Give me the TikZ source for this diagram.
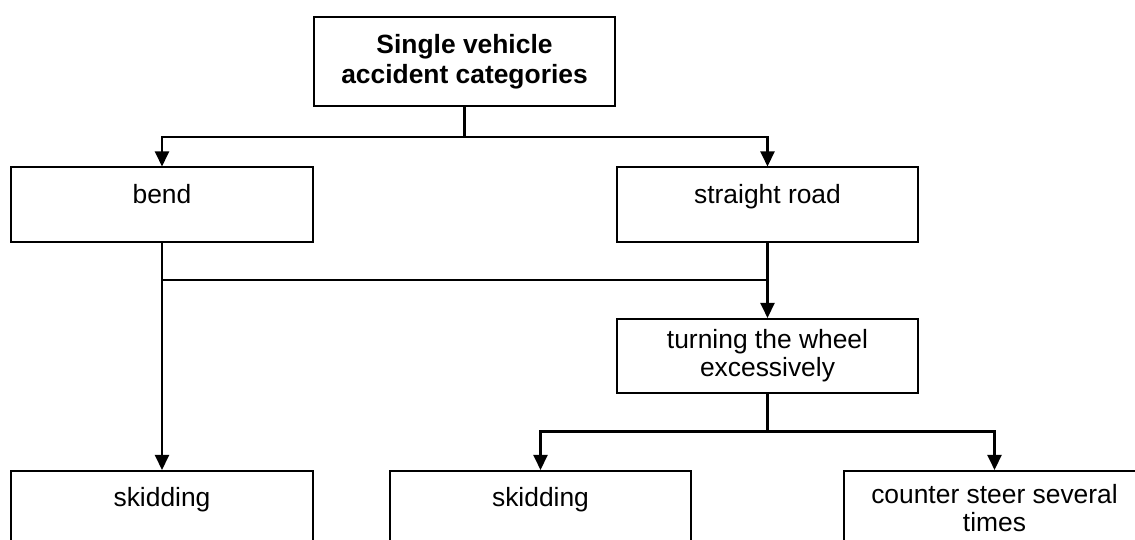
\documentclass[tikz,border=0pt]{standalone}
\usepackage{fontspec}
\setmainfont{Liberation Sans}
\usetikzlibrary{arrows.meta}
\tikzset{
  box/.style={draw=black, line width=1.6pt, minimum width=301.5pt, minimum height=74.5pt,
    inner sep=0pt, align=center, font=\fontsize{26.4}{28}\selectfont},
  onebox/.style={box, text height=19pt, text depth=22pt},
  conn/.style={draw=black, line width=2.4pt},
  arr/.style={conn, -{Triangle[length=15pt,width=14pt]}}
}
\begin{document}
\begin{tikzpicture}[x=1pt,y=-1pt]
\useasboundingbox (0,0) rectangle (1135,539);
\clip (0,0) rectangle (1135,539);
\fill[white] (0,0) rectangle (1135,539);
\node[box, minimum height=89.5pt, font=\bfseries\fontsize{26.4}{30}\selectfont] (top) at (464.5,61.5) {Single vehicle\\accident categories};
\node[onebox] (bend) at (162,204.5) {bend};
\node[onebox] (straight) at (767.5,204.5) {straight road};
\node[box] (turn) at (767.5,356) {turning the wheel\\excessively};
\node[onebox] (skidA) at (162,508) {skidding};
\node[onebox] (skidB) at (540.5,508) {skidding};
\node[box] (counter) at (994.5,508) {counter steer several\\times};
\coordinate (j0) at (464.5,137);
\coordinate (j1) at (162,280);
\coordinate (j2) at (767.5,431.5);
\draw[conn] (top.south) -- (j0);
\draw[arr] (j0) -| (bend.north);
\draw[arr] (j0) -| (straight.north);
\draw[arr] (bend.south) -- (skidA.north);
\draw[conn] (j1) -- (j1 -| straight.south);
\draw[arr] (straight.south) -- (turn.north);
\draw[conn] (turn.south) -- (j2);
\draw[arr] (j2) -| (skidB.north);
\draw[arr] (j2) -| (counter.north);
\end{tikzpicture}
\end{document}
